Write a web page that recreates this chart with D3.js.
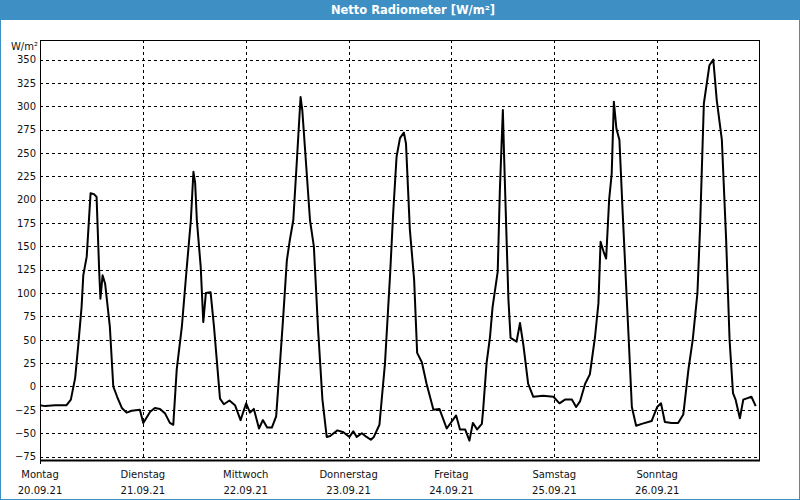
<!DOCTYPE html>
<html>
<head>
<meta charset="utf-8">
<script src="https://cdn.jsdelivr.net/npm/d3@7"></script>
<style>
html,body{margin:0;padding:0;background:#fff;}
svg{display:block;}
</style>
</head>
<body>
<svg id="chart" width="800" height="500"></svg>
<script>
// ---- data ----
const title = "Netto Radiometer [W/m²]";
const unitLabel = "W/m²";
const dayNames = ["Montag","Dienstag","Mittwoch","Donnerstag","Freitag","Samstag","Sonntag"];
const dayDates = ["20.09.21","21.09.21","22.09.21","23.09.21","24.09.21","25.09.21","26.09.21"];
const yTicks = [-75,-50,-25,0,25,50,75,100,125,150,175,200,225,250,275,300,325,350];
// hours since 20.09.21 00:00
const hours = [0.0,1.2,3.5,6.2,7.2,8.2,8.9,9.7,10.1,10.9,11.8,12.6,13.2,13.8,14.1,14.6,15.2,16.3,17.1,18.0,19.1,20.2,21.4,23.3,
  24.1,25.7,26.8,28.0,29.2,30.3,31.1,31.9,33.1,34.2,35.2,35.8,36.2,36.6,37.5,38.1,38.7,39.8,40.6,42.0,42.9,44.2,45.5,46.8,
  48.1,49.0,49.9,51.1,52.0,53.0,54.1,55.1,56.0,56.8,57.6,58.3,59.1,59.9,60.8,61.2,61.8,63.0,63.9,64.9,65.9,66.9,67.7,69.4,70.8,
  72.2,73.1,73.9,75.1,76.2,77.2,77.9,79.2,80.5,81.7,82.4,83.2,84.0,84.9,85.4,86.3,87.3,88.0,89.1,90.2,91.8,93.2,94.9,
  97.1,98.0,99.2,100.2,101.0,102.0,103.1,103.4,104.2,105.0,105.6,106.8,107.3,108.0,108.3,108.9,109.3,109.8,111.2,112.0,112.8,113.9,115.1,117.4,119.8,
  121.2,122.5,124.1,125.1,126.0,127.2,128.3,129.5,130.3,130.8,131.6,132.1,132.8,133.4,133.9,134.5,135.2,135.9,136.7,137.3,138.1,139.1,140.4,142.7,
  144.0,144.9,145.8,147.4,148.9,150.1,151.3,152.3,153.4,154.0,154.4,154.9,156.2,157.1,157.9,159.1,160.1,160.9,161.7,162.3,163.3,164.1,166.0,167.0];
const values = [-20,-21,-20,-20,-14,9,43,85,119,139,207,206,203,125,94,119,110,64,0,-11,-23,-28,-26,-25,
  -39,-27,-23,-24,-29,-39,-41,18,64,125,178,230,218,178,128,69,100,101,64,-13,-19,-15,-20,-36,
  -18,-28,-24,-45,-36,-44,-44,-32,25,78,135,157,178,239,310,296,257,178,150,60,-14,-54,-53,-47,-49,
  -54,-48,-54,-50,-54,-57,-54,-41,25,121,185,246,266,272,260,168,114,36,26,3,-25,-24,-45,
  -31,-46,-46,-58,-39,-46,-40,-25,25,53,85,123,210,296,245,153,93,52,48,68,44,3,-11,-10,-11,
  -18,-14,-14,-22,-16,3,13,53,89,155,143,137,200,228,305,276,264,192,114,57,-22,-42,-40,-37,
  -22,-18,-38,-39,-39,-30,18,50,100,168,228,303,344,350,307,264,157,50,-7,-14,-34,-14,-11,-21];

// ---- layout ----
const W = 800, H = 500;
const plot = {left:40, right:760, top:40, bottom:460};
const blue = "#3d8fc4";
const font = "'DejaVu Sans', Verdana, sans-serif";

const svg = d3.select("#chart");

// frame and title bar
svg.append("rect").attr("x",0.5).attr("y",0.5).attr("width",W-1).attr("height",H-1)
  .attr("fill","#fff").attr("stroke",blue);
svg.append("rect").attr("x",0).attr("y",0).attr("width",W).attr("height",20).attr("fill",blue);
svg.append("text").attr("x",413).attr("y",14).attr("text-anchor","middle")
  .attr("fill","#fff").attr("font-family",font).attr("font-size","11.5px").attr("font-weight","bold")
  .text(title);

const x = d3.scaleLinear().domain([0, 168]).range([plot.left, plot.right]);
const y = d3.scaleLinear().domain([-78.7, 371]).range([plot.bottom, plot.top]);

const g = svg.append("g");

// horizontal gridlines + y labels
const yAxis = d3.axisLeft(y).tickValues(yTicks).tickSize(0).tickPadding(4);
const ya = g.append("g").attr("transform",`translate(${plot.left},0)`).call(yAxis);
ya.select(".domain").remove();
ya.selectAll("text").attr("font-family",font).attr("font-size","10px").attr("fill","#111")
  .attr("x",-4);

g.append("g").selectAll("line").data(yTicks).join("line")
  .attr("x1",plot.left).attr("x2",plot.right)
  .attr("y1",d=>Math.round(y(d))+0.5).attr("y2",d=>Math.round(y(d))+0.5)
  .attr("stroke","#000").attr("stroke-width",1).attr("stroke-dasharray","3,3");

// vertical gridlines at each day
const dayTicks = d3.range(0,7).map(i=>i*24);
g.append("g").selectAll("line").data(dayTicks.slice(1)).join("line")
  .attr("x1",d=>Math.round(x(d))+0.5).attr("x2",d=>Math.round(x(d))+0.5)
  .attr("y1",plot.top).attr("y2",plot.bottom)
  .attr("stroke","#000").attr("stroke-width",1).attr("stroke-dasharray","3,3");

// x axis labels
const xAxis = d3.axisBottom(x).tickValues(dayTicks).tickSize(0).tickFormat("");
g.append("g").attr("transform",`translate(0,${plot.bottom})`).call(xAxis).select(".domain").remove();
const xl = g.append("g").selectAll("g").data(dayTicks).join("g")
  .attr("transform",d=>`translate(${x(d)},0)`);
xl.append("text").attr("y",478).attr("text-anchor","middle")
  .attr("font-family",font).attr("font-size","10px").attr("fill","#111")
  .text((d,i)=>dayNames[i]);
xl.append("text").attr("y",494).attr("text-anchor","middle")
  .attr("font-family",font).attr("font-size","10px").attr("fill","#111")
  .text((d,i)=>dayDates[i]);

// unit label
svg.append("text").attr("x",38).attr("y",50).attr("text-anchor","end")
  .attr("font-family",font).attr("font-size","10px").attr("fill","#111").text(unitLabel);

// plot frame
svg.append("rect").attr("x",plot.left+0.5).attr("y",plot.top+0.5)
  .attr("width",plot.right-plot.left-1).attr("height",plot.bottom-plot.top)
  .attr("fill","none").attr("stroke","#000");
svg.append("line").attr("x1",plot.left+0.5).attr("x2",plot.left+0.5)
  .attr("y1",plot.bottom).attr("y2",plot.bottom+4).attr("stroke","#000");
svg.append("line").attr("x1",plot.left).attr("x2",plot.right)
  .attr("y1",plot.bottom+0.5).attr("y2",plot.bottom+0.5).attr("stroke","#000").attr("stroke-width",2);

// data line
const pts = hours.map((h,i)=>[h, values[i]]);
const line = d3.line().x(d=>x(d[0])).y(d=>y(d[1]));
svg.append("path").datum(pts).attr("d",line)
  .attr("fill","none").attr("stroke","#000").attr("stroke-width",2).attr("stroke-linejoin","round");
</script>
</body>
</html>
